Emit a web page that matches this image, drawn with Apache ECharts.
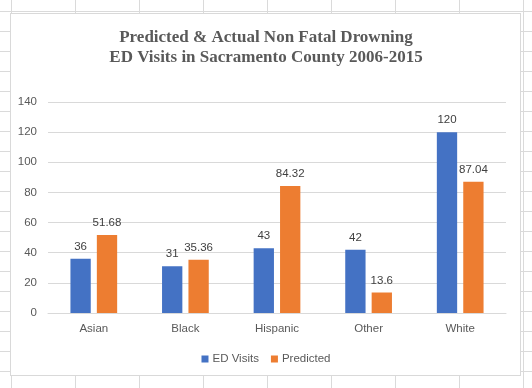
<!DOCTYPE html>
<html>
<head>
<meta charset="utf-8">
<script src="https://cdn.jsdelivr.net/npm/echarts@6/dist/echarts.min.js"></script>
<style>
html,body{margin:0;padding:0;width:532px;height:388px;overflow:hidden;}
body{
  background-color:#fff;
  background-image:linear-gradient(to right,#dadada 1px,transparent 1px),linear-gradient(to bottom,#dadada 1px,transparent 1px);
  background-size:64px 20px;
  background-position:11px 11px;
}
#box{position:absolute;left:10px;top:13px;width:511px;height:363px;box-sizing:border-box;border:1px solid #d9d9d9;background:#fff;}
#chart{position:absolute;left:0;top:0;width:532px;height:388px;}
</style>
</head>
<body>
<div id="box"></div>
<div id="chart"></div>
<script>
var titleLines = ['Predicted & Actual Non Fatal Drowning', 'ED Visits in Sacramento County 2006-2015'];
var categories = ['Asian', 'Black', 'Hispanic', 'Other', 'White'];
var seriesNames = ['ED Visits', 'Predicted'];
var edVisits = [36, 31, 43, 42, 120];
var predicted = [51.68, 35.36, 84.32, 13.6, 87.04];
var yTicks = [0, 20, 40, 60, 80, 100, 120, 140];

var chart = echarts.init(document.getElementById('chart'), null, {renderer: 'canvas'});
var labelStyle = {show: true, position: 'top', distance: 6, color: '#404040', fontSize: 11.5, fontFamily: 'Liberation Sans'};
chart.setOption({
  animation: false,
  backgroundColor: 'transparent',
  title: {
    text: titleLines.join('\n'),
    left: 'center', top: 23,
    textStyle: {fontFamily: 'Liberation Serif', fontWeight: 'bold', fontSize: 17, lineHeight: 20, color: '#595959'}
  },
  legend: {
    data: seriesNames, top: 348, left: 'center',
    icon: 'rect', itemWidth: 7, itemHeight: 7, itemGap: 12,
    textStyle: {fontFamily: 'Liberation Sans', fontSize: 11.5, color: '#595959', padding: [0,0,0,-1]}
  },
  grid: {left: 48, right: 26, top: 102, bottom: 75, containLabel: false},
  xAxis: {
    type: 'category', data: categories,
    axisLine: {lineStyle: {color: '#d9d9d9'}},
    axisTick: {show: false},
    axisLabel: {color: '#595959', fontSize: 11.5, fontFamily: 'Liberation Sans', margin: 10}
  },
  yAxis: {
    type: 'value', min: yTicks[0], max: yTicks[yTicks.length-1], interval: yTicks[1]-yTicks[0],
    axisLine: {show: false}, axisTick: {show: false},
    splitLine: {lineStyle: {color: '#d9d9d9'}},
    axisLabel: {color: '#595959', fontSize: 11.5, fontFamily: 'Liberation Sans', margin: 11}
  },
  series: [
    {name: seriesNames[0], type: 'bar', data: edVisits, itemStyle: {color: '#4472C4'}, label: labelStyle, barGap: '30%', barCategoryGap: '49%'},
    {name: seriesNames[1], type: 'bar', data: predicted, itemStyle: {color: '#ED7D31'}, label: labelStyle, barGap: '30%', barCategoryGap: '49%'}
  ]
});
</script>
</body>
</html>
